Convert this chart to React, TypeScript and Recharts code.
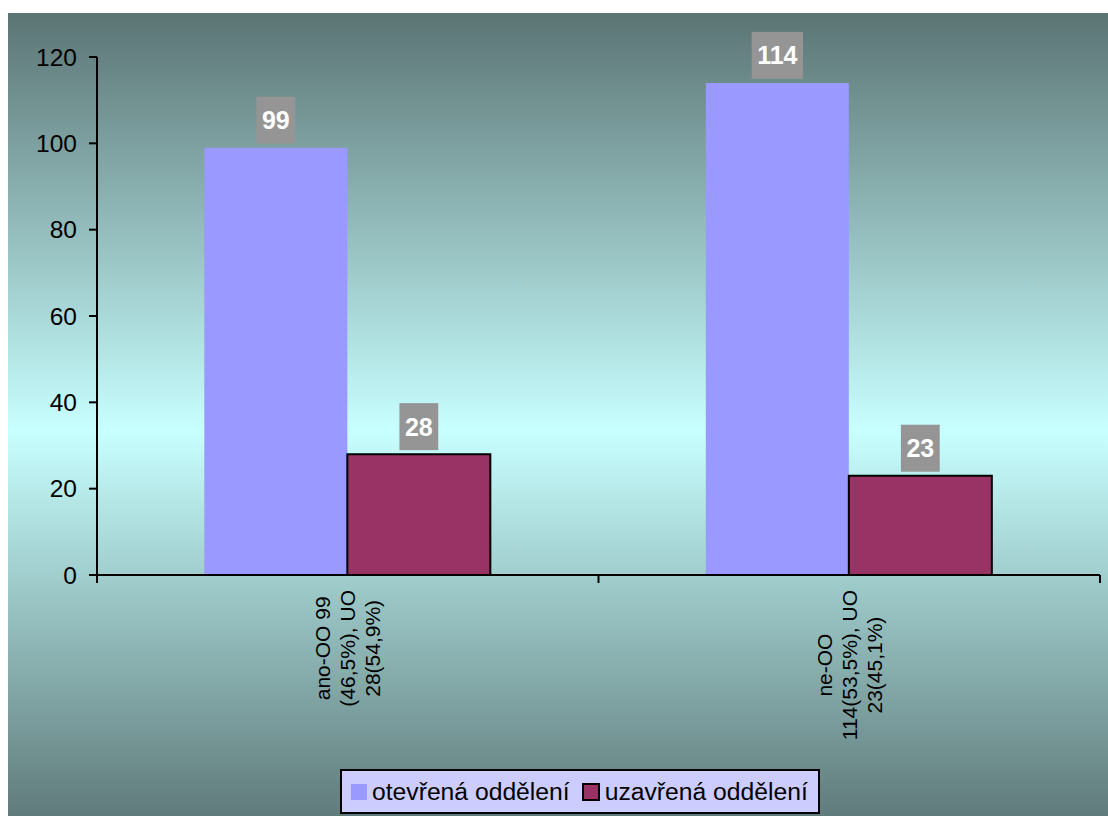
import React from 'react';
import { BarChart, Bar, XAxis, YAxis, LabelList } from 'recharts';

const categories = [
  ['ano-OO 99', '(46,5%), UO', '28(54,9%)'],
  ['ne-OO', '114(53,5%), UO', '23(45,1%)'],
];
const openWards = [99, 114];
const closedWards = [28, 23];
const yTicks = [0, 20, 40, 60, 80, 100, 120];
const seriesNames = ['otevřená oddělení', 'uzavřená oddělení'];

const FONT = '"Liberation Sans", Arial, sans-serif';
const OPEN_COLOR = '#9999ff';
const CLOSED_COLOR = '#993366';

const data = categories.map((lines, i) => ({
  name: lines.join(' '),
  lines,
  open: openWards[i],
  closed: closedWards[i],
}));

const W = 1100;
const H = 803;
const MARGIN = { top: 44, right: 8, bottom: 41, left: 0 };
const Y_WIDTH = 89;
const X_HEIGHT = 200;
const BAND = (W - MARGIN.left - MARGIN.right - Y_WIDTH) / categories.length;
const CAT_FONT = 21;

let measureCtx: CanvasRenderingContext2D | null = null;
function textWidth(s: string, font: string) {
  if (!measureCtx) measureCtx = document.createElement('canvas').getContext('2d');
  if (!measureCtx) return s.length * 11;
  measureCtx.font = font;
  return measureCtx.measureText(s).width;
}

// rotated three-line category label plus tick marks on the band edges
// (tick y already sits 8px below the axis line: default tickSize + tickMargin)
function CategoryTick(props: any) {
  const { x, y, payload, index } = props;
  const lines: string[] = data[index]?.lines ?? [String(payload.value)];
  const maxW = Math.max(...lines.map((l) => textWidth(l, `${CAT_FONT}px ${FONT}`)));
  const cy = y + 7 + maxW / 2;
  const right = x + BAND / 2;
  const left = x - BAND / 2;
  return (
    <g>
      <line x1={right} y1={y - 8} x2={right} y2={y} stroke="#000" strokeWidth={2} />
      {index === 0 && <line x1={left} y1={y - 8} x2={left} y2={y} stroke="#000" strokeWidth={2} />}
      <text
        transform={`translate(${x}, ${cy}) rotate(-90)`}
        textAnchor="middle"
        fontFamily={FONT}
        fontSize={CAT_FONT}
        fill="#000"
      >
        {lines.map((l, i) => (
          <tspan key={i} x={0} y={(i - 1) * 25} dominantBaseline="central">
            {l}
          </tspan>
        ))}
      </text>
    </g>
  );
}

// grey value box above each bar
function ValueBox(props: any) {
  const { x, y, width, value } = props;
  const label = String(value);
  const tw = textWidth(label, `bold 25px ${FONT}`);
  const bw = tw + 11;
  const bh = 47;
  const cx = x + width / 2;
  const top = y - 4 - bh;
  return (
    <g>
      <rect x={cx - bw / 2} y={top} width={bw} height={bh} fill="#959595" />
      <text
        x={cx}
        y={top + bh / 2}
        textAnchor="middle"
        dominantBaseline="central"
        fontFamily={FONT}
        fontSize={25}
        fontWeight="bold"
        fill="#fff"
      >
        {label}
      </text>
    </g>
  );
}

function LegendBox() {
  const swatch = (color: string, bordered: boolean) => (
    <span
      style={{
        display: 'inline-block',
        width: bordered ? 14 : 16,
        height: bordered ? 14 : 16,
        background: color,
        border: bordered ? '2px solid #000' : 'none',
        marginRight: 5,
      }}
    />
  );
  return (
    <div
      style={{
        position: 'absolute',
        left: 332,
        top: 756,
        width: 467,
        height: 41,
        background: '#ccccff',
        border: '2px solid #000',
        display: 'flex',
        alignItems: 'center',
        paddingLeft: 9,
        boxSizing: 'content-box',
        fontFamily: FONT,
        fontSize: 24.7,
        color: '#000',
        whiteSpace: 'nowrap',
      }}
    >
      {swatch(OPEN_COLOR, false)}
      <span style={{ marginRight: 12 }}>{seriesNames[0]}</span>
      {swatch(CLOSED_COLOR, true)}
      <span>{seriesNames[1]}</span>
    </div>
  );
}

export default function App() {
  return (
    <div
      style={{
        position: 'fixed',
        left: 8,
        top: 13,
        width: W,
        height: H,
        overflow: 'hidden',
        background: 'linear-gradient(to bottom, #5b7474 0%, #c8ffff 52%, #607b7b 100%)',
      }}
    >
      <BarChart
        width={W}
        height={H}
        data={data}
        margin={MARGIN}
        barCategoryGap="21.4%"
        barGap={0}
      >
        <YAxis
          domain={[0, 120]}
          ticks={yTicks}
          width={Y_WIDTH}
          axisLine={{ stroke: '#000', strokeWidth: 2 }}
          tickLine={{ stroke: '#000', strokeWidth: 2 }}
          tickSize={8}
          tickMargin={12}
          tick={{ fill: '#000', fontSize: 24.5, fontFamily: FONT }}
        />
        <XAxis
          dataKey="name"
          height={X_HEIGHT}
          axisLine={{ stroke: '#000', strokeWidth: 2 }}
          tickLine={false}
          interval={0}
          tick={<CategoryTick />}
        />
        <Bar dataKey="open" name={seriesNames[0]} fill={OPEN_COLOR} isAnimationActive={false}>
          <LabelList dataKey="open" content={<ValueBox />} />
        </Bar>
        <Bar
          dataKey="closed"
          name={seriesNames[1]}
          fill={CLOSED_COLOR}
          stroke="#000"
          strokeWidth={2}
          isAnimationActive={false}
        >
          <LabelList dataKey="closed" content={<ValueBox />} />
        </Bar>
      </BarChart>
      <LegendBox />
    </div>
  );
}
